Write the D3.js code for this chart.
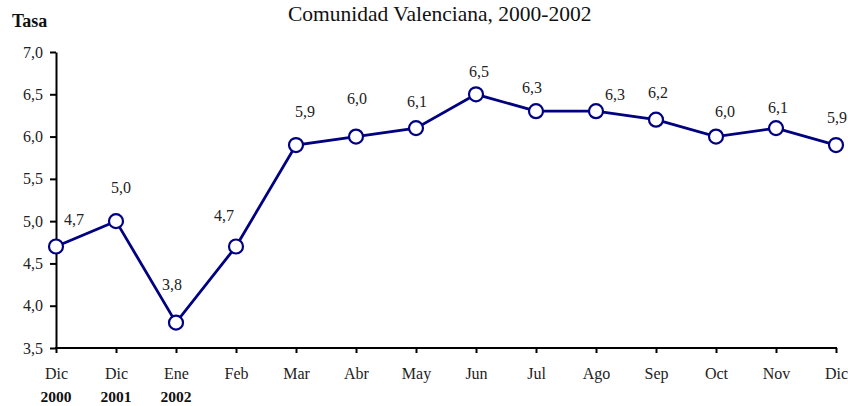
<!DOCTYPE html>
<html>
<head>
<meta charset="utf-8">
<script src="https://cdn.jsdelivr.net/npm/d3@7/dist/d3.min.js"></script>
<style>
  html, body { margin: 0; padding: 0; background: #fff; }
  svg text { font-family: "Liberation Serif", "Times New Roman", serif; }
</style>
</head>
<body>
<svg id="chart" width="848" height="406"></svg>
<script>
// ---- data ----
const months = ["Dic", "Dic", "Ene", "Feb", "Mar", "Abr", "May", "Jun", "Jul", "Ago", "Sep", "Oct", "Nov", "Dic"];
const years = ["2000", "2001", "2002", "", "", "", "", "", "", "", "", "", "", ""];
const values = [4.7, 5.0, 3.8, 4.7, 5.9, 6.0, 6.1, 6.5, 6.3, 6.3, 6.2, 6.0, 6.1, 5.9];
const yTicks = [3.5, 4.0, 4.5, 5.0, 5.5, 6.0, 6.5, 7.0];
const title = "Comunidad Valenciana, 2000-2002";
const yTitle = "Tasa";

// ---- layout (label placement offsets, px) ----
const labelOffsets = [[18,-27],[5,-34],[-4,-38],[-12,-31],[9,-34],[1,-38],[1,-27],[3,-23],[-4,-24],[19,-17],[2,-27],[9,-25],[2,-21],[1,-28]];

const svg = d3.select("#chart");
const fmt = v => d3.format(".1f")(v).replace(".", ",");
const navy = "#000080";
const txt = "#222";

const x = d3.scalePoint().domain(d3.range(months.length)).range([56, 836]);
const y = d3.scaleLinear().domain([3.5, 7.0]).range([348, 52]);

// title
svg.append("text").attr("x", 288).attr("y", 21).attr("text-anchor", "start")
  .attr("font-size", 21.5).attr("fill", "#111").text(title);
svg.append("text").attr("x", 12).attr("y", 27)
  .attr("font-size", 18).attr("font-weight", "bold").attr("fill", "#111").text(yTitle);

// y axis
const yAxis = svg.append("g").attr("transform", "translate(56,0)")
  .call(d3.axisLeft(y).tickValues(yTicks).tickFormat(fmt).tickSizeInner(6).tickSizeOuter(0).tickPadding(7));
yAxis.select(".domain").attr("stroke", "#000").attr("stroke-width", 2);
yAxis.selectAll(".tick line").attr("stroke", "#000").attr("stroke-width", 2);
yAxis.selectAll(".tick text").attr("font-size", 16).attr("fill", txt);

// x axis
const xAxis = svg.append("g").attr("transform", "translate(0,348)")
  .call(d3.axisBottom(x).tickFormat(i => months[i]).tickSizeInner(5).tickSizeOuter(0).tickPadding(15));
xAxis.select(".domain").attr("stroke", "#000").attr("stroke-width", 2)
  .attr("d", "M55,0H837");
xAxis.selectAll(".tick line").attr("stroke", "#000").attr("stroke-width", 2);
xAxis.selectAll(".tick text").attr("font-size", 16).attr("fill", txt);

// year labels
svg.append("g").selectAll("text").data(years.map((t, i) => ({t, i})).filter(d => d.t))
  .join("text")
  .attr("x", d => x(d.i)).attr("y", 402).attr("text-anchor", "middle")
  .attr("font-size", 15.5).attr("font-weight", "bold").attr("fill", "#111")
  .text(d => d.t);

// line
const line = d3.line().x((d, i) => x(i)).y(d => y(d));
svg.append("path").datum(values).attr("d", line)
  .attr("fill", "none").attr("stroke", navy).attr("stroke-width", 2.8);

// markers
svg.append("g").selectAll("circle").data(values).join("circle")
  .attr("cx", (d, i) => x(i)).attr("cy", d => y(d)).attr("r", 7)
  .attr("fill", "#fff").attr("stroke", navy).attr("stroke-width", 2.2);

// value labels
svg.append("g").selectAll("text").data(values).join("text")
  .attr("x", (d, i) => x(i) + labelOffsets[i][0])
  .attr("y", (d, i) => y(d) + labelOffsets[i][1] + 5.5)
  .attr("text-anchor", "middle").attr("font-size", 16).attr("fill", txt)
  .text(d => fmt(d));
</script>
</body>
</html>
